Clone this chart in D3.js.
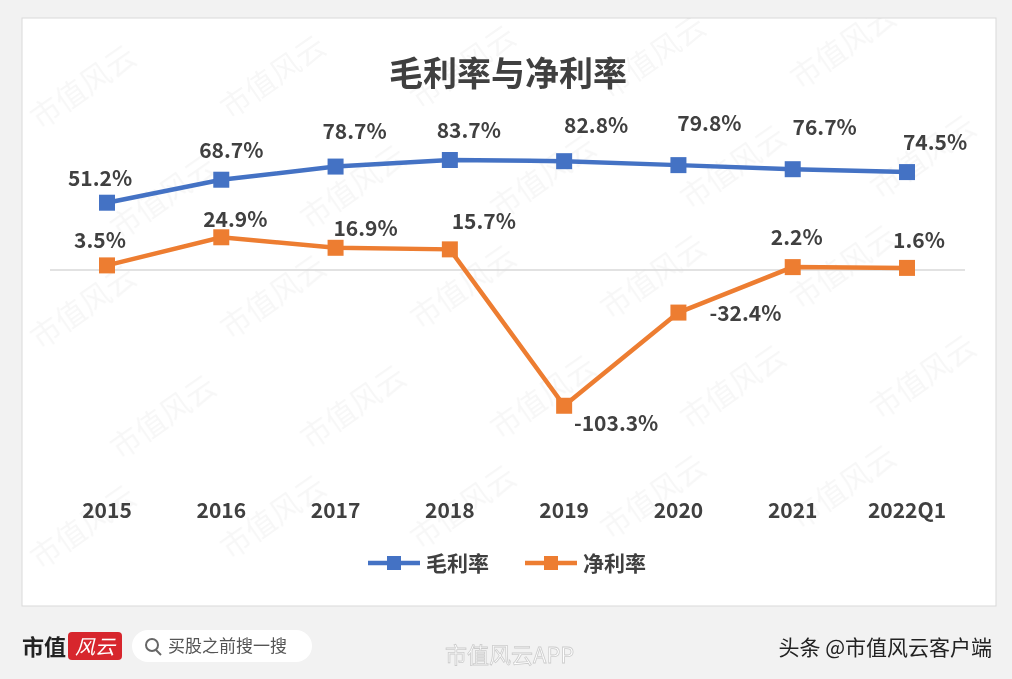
<!DOCTYPE html>
<html><head><meta charset="utf-8">
<script src="https://cdn.jsdelivr.net/npm/d3@7"></script>
<style>body{margin:0;background:#f2f2f2;font-family:"Noto Sans CJK SC","Noto Sans",sans-serif}</style>
</head><body>
<svg id="chart" width="1012" height="679"></svg>
<script>
const categories = ["2015","2016","2017","2018","2019","2020","2021","2022Q1"];
const grossMargin = [51.2,68.7,78.7,83.7,82.8,79.8,76.7,74.5];
const netMargin = [3.5,24.9,16.9,15.7,-103.3,-32.4,2.2,1.6];

const svg = d3.select("#chart");
const font = "'Noto Sans CJK SC', sans-serif";

// card
svg.append("rect").attr("x",0).attr("y",0).attr("width",1012).attr("height",679).attr("fill","#f2f2f2");
svg.append("rect").attr("x",22).attr("y",18).attr("width",974).attr("height",588).attr("fill","#fff")
  .attr("stroke","#d9d9d9");

// watermarks, kept inside the card
svg.append("clipPath").attr("id","card").append("rect").attr("x",22).attr("y",18).attr("width",974).attr("height",588);
const wm = svg.append("g").attr("clip-path","url(#card)").attr("fill","#000").attr("opacity",0.035)
  .attr("font-family",font).attr("font-size",30);
const wmPos = [[40,130],[230,120],[420,110],[610,100],[800,90],
  [120,240],[310,230],[500,220],[690,210],[880,200],
  [40,350],[230,340],[420,330],[610,320],[800,310],
  [120,460],[310,450],[500,440],[690,430],[880,420],
  [40,570],[230,560],[420,550],[610,540],[800,530]];
wmPos.forEach(([px,py]) => wm.append("text").attr("transform",`translate(${px},${py}) rotate(-35)`).text("市值风云"));

svg.append("text").attr("x",508).attr("y",86).attr("text-anchor","middle")
  .attr("font-family",font).attr("font-weight","bold").attr("font-size",34).attr("fill","#404040")
  .text("毛利率与净利率");

const x = d3.scalePoint().domain(categories).range([107,907]);
const y = d3.scaleLinear().domain([0,83.7]).range([270,160]);

svg.append("line").attr("x1",50).attr("x2",965).attr("y1",y(0)).attr("y2",y(0)).attr("stroke","#d9d9d9").attr("stroke-width",1.5);

const series = [
  {name:"毛利率", values:grossMargin, color:"#4472c4"},
  {name:"净利率", values:netMargin, color:"#ed7d31"}
];
const line = d3.line().x((d,i)=>x(categories[i])).y(d=>y(d));
series.forEach(s=>{
  svg.append("path").attr("d",line(s.values)).attr("fill","none").attr("stroke",s.color).attr("stroke-width",4.5);
  svg.selectAll(null).data(s.values).join("rect")
    .attr("x",(d,i)=>x(categories[i])-8).attr("y",d=>y(d)-8).attr("width",16).attr("height",16).attr("fill",s.color);
});

const lab = (vals, dys, dxs) => svg.selectAll(null).data(vals).join("text")
  .attr("x",(d,i)=>x(categories[i])+dxs[i]).attr("y",(d,i)=>y(d)+dys[i])
  .attr("text-anchor","middle").attr("font-family",font).attr("font-weight","bold").attr("font-size",21).attr("fill","#404040")
  .text(d=>d.toFixed(1)+"%");
lab(grossMargin, [-17,-22,-28,-22,-28,-34,-34,-22], [-7,10,19,19,32,31,32,28]);
lab(netMargin, [-17,-10,-12,-20,25,8,-22,-20], [-7,14,30,34,52,67,4,12]);

svg.selectAll(null).data(categories).join("text")
  .attr("x",d=>x(d)).attr("y",518).attr("text-anchor","middle")
  .attr("font-family",font).attr("font-weight","bold").attr("font-size",21).attr("fill","#404040").text(d=>d);

// legend
series.forEach((s,i)=>{
  const lx = 368 + i*157;
  svg.append("line").attr("x1",lx).attr("x2",lx+52).attr("y1",563).attr("y2",563).attr("stroke",s.color).attr("stroke-width",4.5);
  svg.append("rect").attr("x",lx+19).attr("y",556).attr("width",14).attr("height",14).attr("fill",s.color);
  svg.append("text").attr("x",lx+58).attr("y",571).attr("font-family",font).attr("font-weight","bold").attr("font-size",21).attr("fill","#404040").text(s.name);
});

// footer
svg.append("text").attr("x",22).attr("y",655).attr("font-family",font).attr("font-weight","bold").attr("font-size",22).attr("fill","#222").text("市值");
svg.append("rect").attr("x",68).attr("y",632).attr("width",54).attr("height",28).attr("rx",4).attr("fill","#d7262d");
svg.append("text").attr("x",95).attr("y",654).attr("text-anchor","middle").attr("font-family",font).attr("font-style","italic").attr("font-size",20).attr("fill","#fff").text("风云");
svg.append("rect").attr("x",132).attr("y",630).attr("width",180).attr("height",32).attr("rx",16).attr("fill","#fff");
svg.append("circle").attr("cx",152).attr("cy",645).attr("r",6).attr("fill","none").attr("stroke","#666").attr("stroke-width",2);
svg.append("line").attr("x1",156).attr("y1",650).attr("x2",161).attr("y2",655).attr("stroke","#666").attr("stroke-width",2);
svg.append("text").attr("x",168).attr("y",652).attr("font-family",font).attr("font-size",17).attr("fill","#555").text("买股之前搜一搜");
svg.append("text").attr("x",445).attr("y",663).attr("font-family",font).attr("font-size",22).attr("fill","#fff").attr("stroke","#ccc").attr("stroke-width",0.8).text("市值风云APP");
svg.append("text").attr("x",992).attr("y",655).attr("text-anchor","end").attr("font-family",font).attr("font-size",21).attr("fill","#222").text("头条 @市值风云客户端");
</script>
</body></html>
